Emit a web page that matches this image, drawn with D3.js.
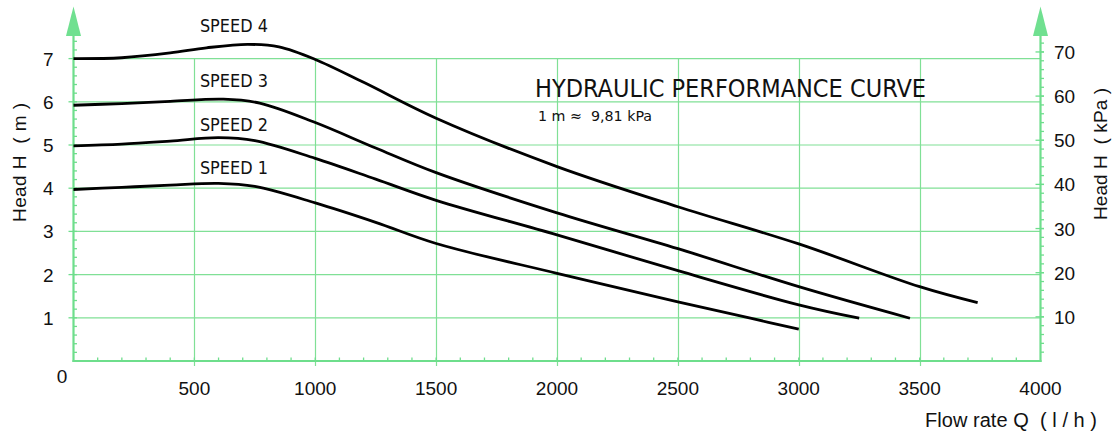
<!DOCTYPE html>
<html>
<head>
<meta charset="utf-8">
<script src="https://cdn.jsdelivr.net/npm/d3@7"></script>
<style>
html,body{margin:0;padding:0;background:#fff;}
svg{display:block;}
text{white-space:pre;}
</style>
</head>
<body>
<svg id="chart" width="1118" height="435"></svg>
<script>
// ---- data ----
const seriesNames = ["SPEED 1", "SPEED 2", "SPEED 3", "SPEED 4"];
const speed1Q = [0, 200, 400, 600, 750, 1000, 1250, 1500, 2000, 2500, 2800, 3000];
const speed1H = [3.97, 4.02, 4.07, 4.11, 4.04, 3.66, 3.21, 2.72, 2.03, 1.37, 0.99, 0.74];
const speed2Q = [0, 200, 400, 600, 750, 1000, 1250, 1500, 2000, 2500, 3000, 3250];
const speed2H = [4.98, 5.02, 5.09, 5.17, 5.10, 4.69, 4.21, 3.72, 2.92, 2.09, 1.30, 0.99];
const speed3Q = [0, 200, 400, 620, 770, 1000, 1250, 1500, 2000, 2500, 3000, 3460];
const speed3H = [5.92, 5.96, 6.01, 6.06, 5.97, 5.52, 4.93, 4.36, 3.43, 2.60, 1.72, 0.99];
const speed4Q = [0, 200, 400, 550, 720, 850, 1000, 1200, 1500, 2000, 2500, 3000, 3500, 3740];
const speed4H = [7.0, 7.02, 7.13, 7.25, 7.33, 7.27, 6.98, 6.45, 5.62, 4.50, 3.57, 2.71, 1.72, 1.35];
const xTickLabels = [500, 1000, 1500, 2000, 2500, 3000, 3500, 4000];
const yTickLabelsM = [1, 2, 3, 4, 5, 6, 7];
const yTickLabelsKPa = [10, 20, 30, 40, 50, 60, 70];
const labelPos = [[500, 4.33], [500, 5.32], [500, 6.34], [500, 7.62]]; // label baseline in data units
const titleText = "HYDRAULIC PERFORMANCE CURVE";
const subtitleText = "1 m \u2248  9,81 kPa";
const xTitle = "Flow rate Q  ( l / h )";
const yTitleLeft = "Head H  ( m )";
const yTitleRight = "Head H  ( kPa )";

const series = [
  {name: seriesNames[0], q: speed1Q, h: speed1H},
  {name: seriesNames[1], q: speed2Q, h: speed2H},
  {name: seriesNames[2], q: speed3Q, h: speed3H},
  {name: seriesNames[3], q: speed4Q, h: speed4H}
];

// ---- layout ----
const svg = d3.select("#chart");
const X0 = 73.5, X1 = 1040.5, Y0 = 361, Ytop = 36;
const x = d3.scaleLinear().domain([0, 4000]).range([X0, X1]);
const y = d3.scaleLinear().domain([0, 7]).range([Y0, Y0 - 7 * 43.2]);
const yk = d3.scaleLinear().domain([0, 70]).range([Y0, Y0 - 7 * 44.15]);

const green = "rgb(110,222,140)";
const gridGreen = "rgb(128,224,150)";
const labelFont = "'Liberation Sans', Arial, sans-serif";
const condFont = "'DejaVu Sans Condensed', 'DejaVu Sans', sans-serif";

// grid horizontal
svg.append("g").selectAll("line").data(yTickLabelsM).join("line")
  .attr("x1", X0).attr("x2", X1)
  .attr("y1", d => y(d)).attr("y2", d => y(d))
  .attr("stroke", gridGreen).attr("stroke-width", 1.2);

// grid vertical (to top gridline, extending below axis as major tick)
svg.append("g").selectAll("line").data(xTickLabels.filter(d => d < 4000)).join("line")
  .attr("x1", d => Math.round(x(d)) + 0.5).attr("x2", d => Math.round(x(d)) + 0.5)
  .attr("y1", y(7)).attr("y2", Y0 + 5)
  .attr("stroke", gridGreen).attr("stroke-width", 1.2);

// bottom minor ticks
const xMinor = d3.range(100, 4000, 100);
svg.append("g").selectAll("line").data(xMinor).join("line")
  .attr("x1", d => x(d)).attr("x2", d => x(d))
  .attr("y1", Y0).attr("y2", Y0 - 3.5)
  .attr("stroke", green).attr("stroke-width", 1.3);

// left minor ticks every 0.2 m
const yMinor = d3.range(1, 38).map(i => i * 0.2);
svg.append("g").selectAll("line").data(yMinor).join("line")
  .attr("x1", X0).attr("x2", X0 + 3.5)
  .attr("y1", d => y(d)).attr("y2", d => y(d))
  .attr("stroke", green).attr("stroke-width", 1.3);
// left major ticks
svg.append("g").selectAll("line").data(yTickLabelsM).join("line")
  .attr("x1", X0 - 5).attr("x2", X0)
  .attr("y1", d => y(d)).attr("y2", d => y(d))
  .attr("stroke", green).attr("stroke-width", 1.3);

// right ticks every 2 kPa
const kMinor = d3.range(1, 37).map(i => i * 2);
svg.append("g").selectAll("line").data(kMinor).join("line")
  .attr("x1", X1).attr("x2", X1 + 3.5)
  .attr("y1", d => yk(d)).attr("y2", d => yk(d))
  .attr("stroke", green).attr("stroke-width", 1.3);
svg.append("g").selectAll("line").data(yTickLabelsKPa).join("line")
  .attr("x1", X1 - 5).attr("x2", X1 + 3.5)
  .attr("y1", d => yk(d)).attr("y2", d => yk(d))
  .attr("stroke", green).attr("stroke-width", 1.3);

// axis lines
svg.append("line").attr("x1", X0).attr("x2", X0).attr("y1", Y0 + 1).attr("y2", Ytop)
  .attr("stroke", green).attr("stroke-width", 2.2);
svg.append("line").attr("x1", X1).attr("x2", X1).attr("y1", Y0 + 1).attr("y2", Ytop)
  .attr("stroke", green).attr("stroke-width", 2.2);
svg.append("line").attr("x1", X0 - 1).attr("x2", X1 + 1).attr("y1", Y0).attr("y2", Y0)
  .attr("stroke", green).attr("stroke-width", 2.2);

// arrows
[X0, X1].forEach(cx => {
  svg.append("path")
    .attr("d", `M${cx - 7.5},${Ytop} L${cx + 7.5},${Ytop} L${cx},${6.5} Z`)
    .attr("fill", "rgb(112,224,144)");
});

// curves
const line = d3.line().x(d => x(d[0])).y(d => y(d[1])).curve(d3.curveCatmullRom.alpha(0.5));
svg.append("g").selectAll("path").data(series).join("path")
  .attr("d", s => line(s.q.map((q, i) => [q, s.h[i]])))
  .attr("fill", "none").attr("stroke", "#000").attr("stroke-width", 2.8)
  .attr("stroke-linejoin", "round");

// series labels
svg.append("g").selectAll("text").data(series).join("text")
  .attr("x", (s, i) => x(labelPos[i][0]) + 5.5)
  .attr("y", (s, i) => y(labelPos[i][1]))
  .attr("font-family", condFont).attr("font-size", 17.5)
  .attr("textLength", 68).attr("lengthAdjust", "spacingAndGlyphs")
  .attr("fill", "#111")
  .text(s => s.name);

// title
svg.append("text").attr("x", 535).attr("y", 96.5)
  .attr("font-family", condFont).attr("font-size", 25)
  .attr("textLength", 391).attr("lengthAdjust", "spacingAndGlyphs")
  .attr("fill", "#111").text(titleText);
svg.append("text").attr("x", 538).attr("y", 121)
  .attr("font-family", condFont).attr("font-size", 14.5)
  .attr("textLength", 114).attr("lengthAdjust", "spacingAndGlyphs")
  .attr("fill", "#111").text(subtitleText);

// x tick labels
svg.append("g").selectAll("text").data(xTickLabels).join("text")
  .attr("x", d => x(d)).attr("y", 395)
  .attr("text-anchor", "middle")
  .attr("font-family", labelFont).attr("font-size", 19).attr("fill", "#111")
  .text(d => d);
svg.append("text").attr("x", 62).attr("y", 383)
  .attr("text-anchor", "middle")
  .attr("font-family", labelFont).attr("font-size", 19).attr("fill", "#111")
  .text("0");

// left tick labels
svg.append("g").selectAll("text").data(yTickLabelsM).join("text")
  .attr("x", 53.5).attr("y", d => y(d) + 7)
  .attr("text-anchor", "end")
  .attr("font-family", labelFont).attr("font-size", 19).attr("fill", "#111")
  .text(d => d);

// right tick labels
svg.append("g").selectAll("text").data(yTickLabelsKPa).join("text")
  .attr("x", 1054).attr("y", d => yk(d) + 7)
  .attr("font-family", labelFont).attr("font-size", 19).attr("fill", "#111")
  .text(d => d);

// axis titles
svg.append("text").attr("x", 925).attr("y", 426.5)
  .attr("font-family", labelFont).attr("font-size", 20)
  .attr("textLength", 172).attr("lengthAdjust", "spacing")
  .attr("fill", "#111").text(xTitle);
svg.append("text")
  .attr("transform", "translate(25.5,222) rotate(-90)")
  .attr("font-family", labelFont).attr("font-size", 19)
  .attr("textLength", 119).attr("lengthAdjust", "spacing")
  .attr("fill", "#111").text(yTitleLeft);
svg.append("text")
  .attr("transform", "translate(1107,220) rotate(-90)")
  .attr("font-family", labelFont).attr("font-size", 19)
  .attr("textLength", 132).attr("lengthAdjust", "spacing")
  .attr("fill", "#111").text(yTitleRight);
</script>
</body>
</html>
